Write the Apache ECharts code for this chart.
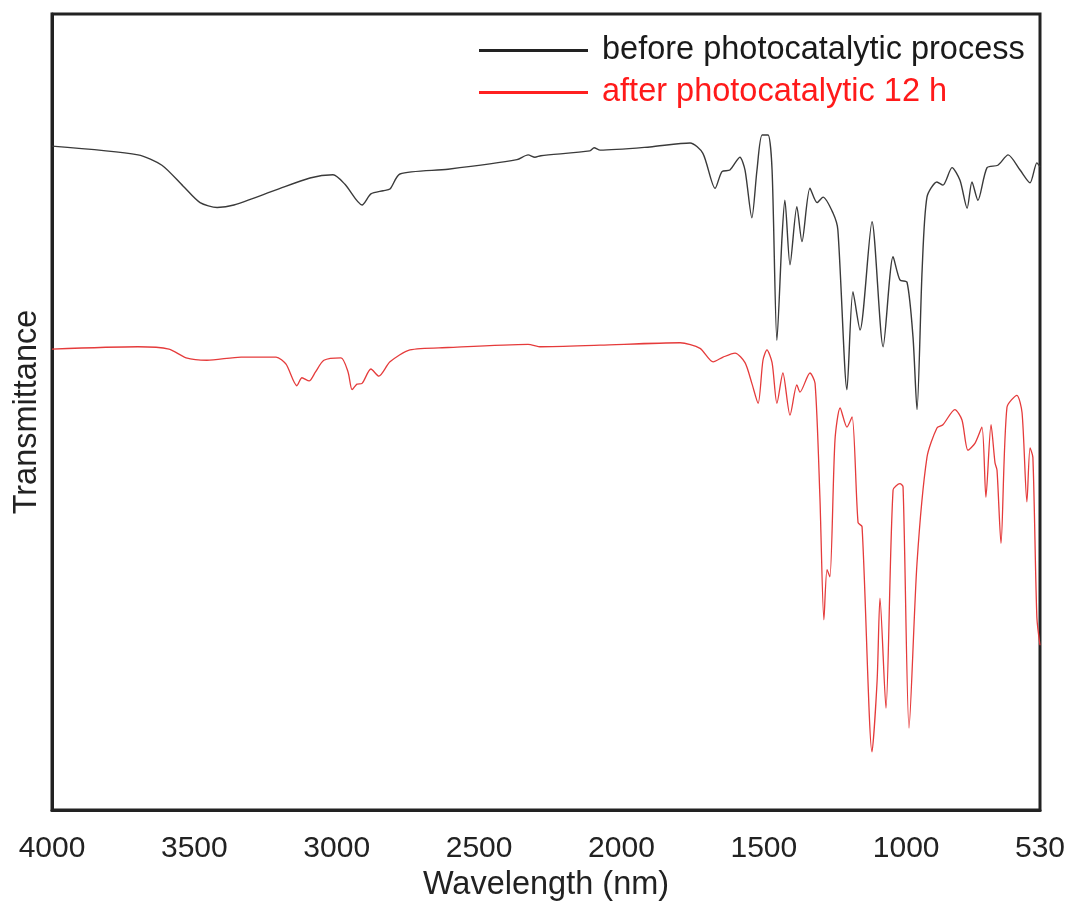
<!DOCTYPE html>
<html>
<head>
<meta charset="utf-8">
<style>
  html, body { margin: 0; padding: 0; background: #fff; }
  #chart { width: 1065px; height: 901px; }
</style>
<script src="https://cdn.jsdelivr.net/npm/echarts@6/dist/echarts.min.js"></script>
</head>
<body>
<div id="chart"></div>
<script>
// Wavenumber ticks shown on the x axis
const xTicks = [4000, 3500, 3000, 2500, 2000, 1500, 1000, 530];

// "before photocatalytic process" spectrum: wavenumber and transmittance (a.u.)
const beforeX = [4000, 3698, 3614, 3540, 3480, 3420, 3361, 3213, 3094, 3013, 2971, 2911, 2880, 2837, 2813, 2778, 2609, 2367, 2328, 2304, 2283, 2111, 2096, 2075, 1900, 1759, 1714, 1671, 1647, 1619, 1584, 1566, 1542, 1524, 1506, 1485, 1471, 1454, 1436, 1426, 1408, 1384, 1366, 1338, 1313, 1292, 1257, 1240, 1208, 1187, 1162, 1120, 1081, 1046, 1022, 997, 976, 962, 944, 927, 892, 871, 839, 811, 786, 769, 748, 716, 678, 642, 600, 565, 541, 530];
const beforeY = [83.4, 82.3, 81.0, 78.4, 76.3, 75.7, 76.0, 77.9, 79.4, 79.8, 78.6, 76.0, 77.4, 77.8, 78.0, 79.9, 80.5, 81.7, 82.3, 82.0, 82.2, 82.8, 83.2, 82.9, 83.3, 83.8, 82.5, 78.1, 80.2, 80.4, 82.0, 80.4, 74.4, 80.4, 84.8, 84.8, 80.4, 59.0, 72.0, 76.6, 68.5, 75.8, 71.4, 78.1, 76.3, 77.0, 75.0, 72.9, 52.8, 65.1, 60.3, 73.9, 58.2, 69.5, 66.6, 66.3, 59.4, 50.3, 67.8, 77.0, 78.9, 78.5, 80.7, 79.1, 75.6, 78.9, 76.6, 80.7, 81.0, 82.3, 80.4, 78.8, 81.3, 80.8];

// "after photocatalytic 12 h" spectrum
const afterX = [4000, 3698, 3589, 3529, 3456, 3336, 3213, 3178, 3140, 3122, 3097, 3075, 3045, 2985, 2960, 2946, 2929, 2911, 2880, 2852, 2813, 2743, 2609, 2328, 2283, 2075, 1794, 1724, 1678, 1643, 1601, 1566, 1542, 1520, 1503, 1489, 1471, 1454, 1433, 1408, 1384, 1373, 1338, 1320, 1303, 1289, 1278, 1268, 1250, 1232, 1208, 1190, 1169, 1155, 1120, 1102, 1092, 1071, 1046, 1022, 1011, 990, 962, 927, 892, 871, 829, 804, 783, 758, 734, 720, 702, 688, 681, 667, 646, 611, 593, 576, 565, 555, 541, 530];
const afterY = [57.9, 58.2, 57.9, 56.8, 56.5, 56.9, 56.9, 56.0, 53.3, 54.3, 53.9, 55.0, 56.5, 56.8, 55.0, 52.8, 53.5, 53.6, 55.4, 54.5, 56.3, 57.8, 58.1, 58.5, 58.2, 58.4, 58.7, 58.0, 56.3, 56.9, 57.4, 56.2, 53.6, 51.1, 56.5, 57.8, 56.2, 51.1, 54.9, 49.6, 53.4, 52.5, 54.9, 53.6, 39.3, 23.9, 30.2, 29.3, 46.5, 50.5, 48.1, 49.4, 36.1, 35.6, 7.3, 16.3, 26.6, 12.8, 40.2, 41.0, 40.6, 10.3, 31.0, 44.3, 48.0, 48.4, 50.3, 49.0, 45.2, 46.1, 48.1, 39.3, 48.4, 43.6, 42.7, 33.5, 50.6, 52.1, 49.9, 38.7, 45.5, 44.3, 24.2, 20.7];

const seriesNames = ['before photocatalytic process', 'after photocatalytic 12 h'];

const zip = (xs, ys) => xs.map((x, i) => [x, ys[i]]);
const FONT = '"Liberation Sans", Arial, sans-serif';

const chart = echarts.init(document.getElementById('chart'));
chart.setOption({
  animation: false,
  backgroundColor: '#fff',
  grid: {
    left: 52, right: 25, top: 14, bottom: 91,
    outerBoundsMode: 'none',
    show: true, borderColor: '#222', borderWidth: 3, containLabel: false
  },
  legend: {
    orient: 'vertical',
    left: 479, top: 34, padding: 0,
    itemWidth: 109, itemHeight: 3, itemGap: 9,
    icon: 'rect',
    textStyle: { fontFamily: FONT, fontSize: 32.5, padding: [0, 0, 0, 9] },
    data: [
      { name: seriesNames[0], textStyle: { color: '#1a1a1a' } },
      { name: seriesNames[1], textStyle: { color: '#ff1a1a' } }
    ]
  },
  xAxis: {
    type: 'value',
    min: 530, max: 4000,
    inverse: true,
    name: 'Wavelength (nm)',
    nameLocation: 'middle',
    nameGap: 44,
    nameTextStyle: { fontFamily: FONT, fontSize: 32.5, color: '#222' },
    axisLine: { show: true, lineStyle: { color: '#222', width: 3 } },
    axisTick: { show: false },
    splitLine: { show: false },
    axisLabel: {
      customValues: xTicks,
      formatter: (v) => String(v),
      fontFamily: FONT, fontSize: 30, color: '#222', margin: 24
    }
  },
  yAxis: {
    type: 'value',
    min: 0, max: 100,
    name: 'Transmittance',
    nameLocation: 'middle',
    nameGap: 8,
    nameTextStyle: { fontFamily: FONT, fontSize: 32.5, color: '#222' },
    axisLine: { show: true, lineStyle: { color: '#222', width: 3 } },
    axisTick: { show: false },
    axisLabel: { show: false },
    splitLine: { show: false }
  },
  series: [
    {
      name: seriesNames[0], type: 'line', data: zip(beforeX, beforeY),
      showSymbol: false, symbol: 'none', smooth: 0.25,
      color: '#222', lineStyle: { color: '#3a3a3a', width: 1.4 }
    },
    {
      name: seriesNames[1], type: 'line', data: zip(afterX, afterY),
      showSymbol: false, symbol: 'none', smooth: 0.25,
      color: '#ff2020', lineStyle: { color: '#e53b3b', width: 1.3 }
    }
  ]
});
</script>
</body>
</html>
